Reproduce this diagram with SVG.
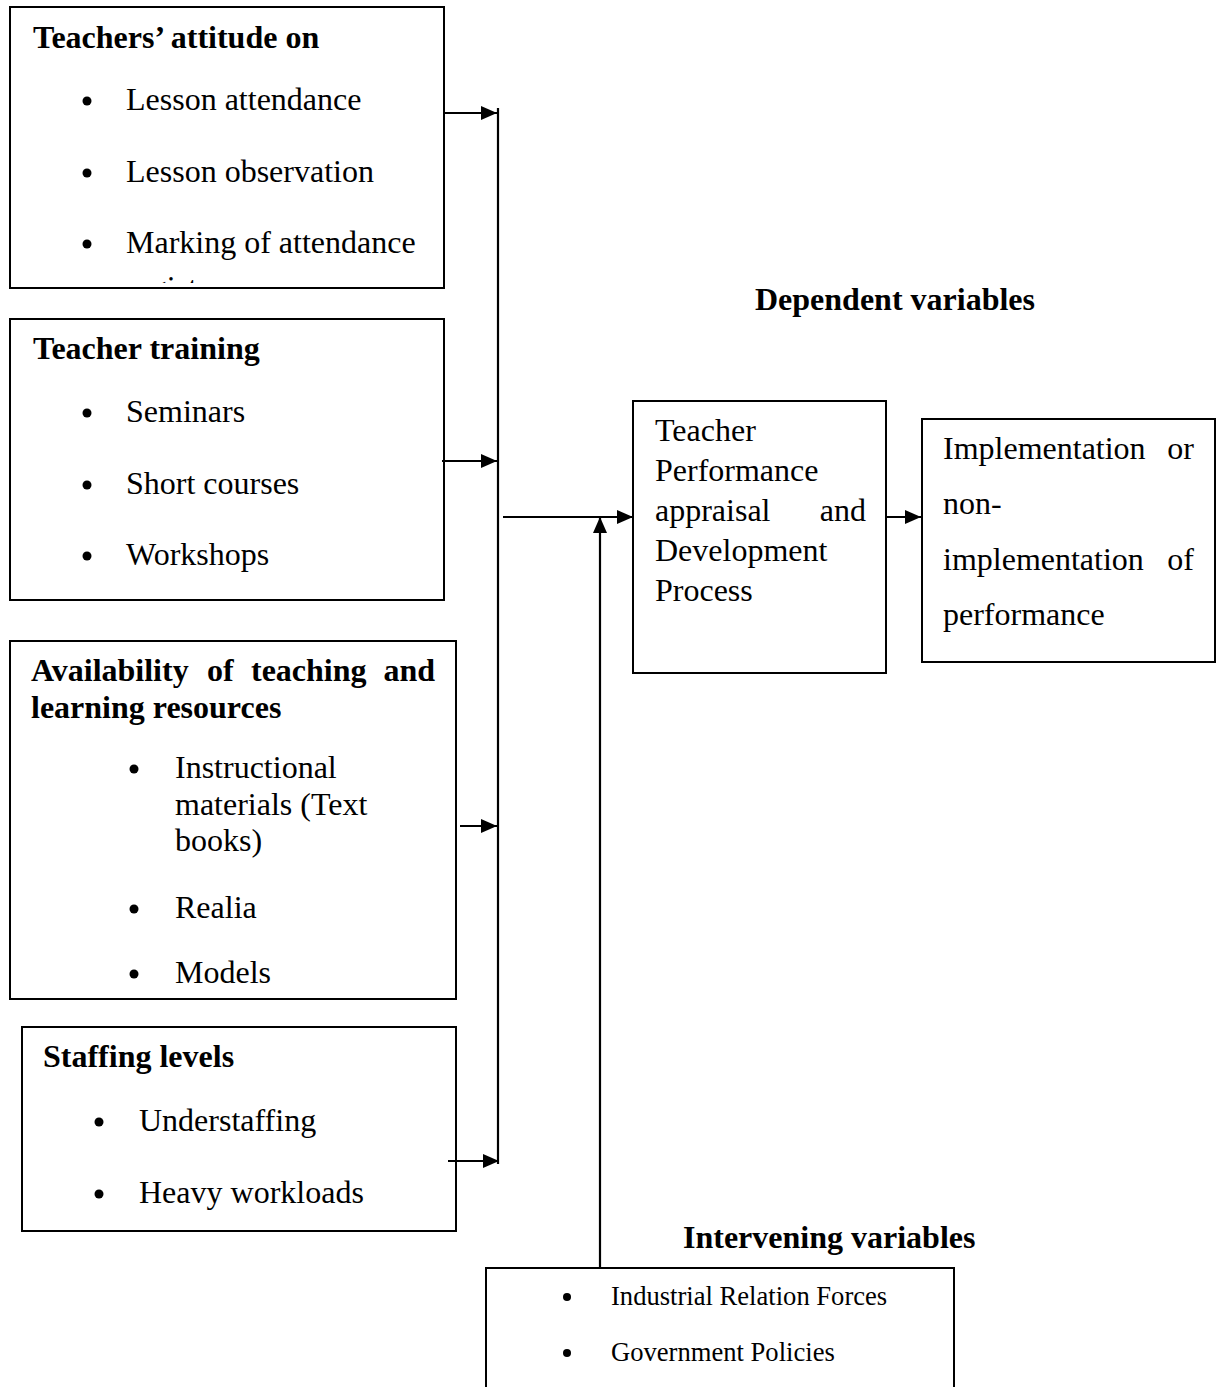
<svg xmlns="http://www.w3.org/2000/svg" width="1217" height="1387" viewBox="0 0 1217 1387">
<style>
.box{fill:#fff;stroke:#000;stroke-width:2}
.t{font-family:"Liberation Serif","Times New Roman",serif;font-size:32px;fill:#000}
.b{font-family:"Liberation Serif","Times New Roman",serif;font-size:32px;font-weight:bold;fill:#000}
.s{font-family:"Liberation Serif","Times New Roman",serif;font-size:26.6px;fill:#000}
.c{stroke:#000;stroke-width:2.2;fill:none}
</style>
<defs>
<marker id="ah" markerUnits="userSpaceOnUse" markerWidth="17" markerHeight="14" refX="16" refY="7" orient="auto">
<path d="M0,0 L16,7 L0,14 Z" fill="#000"/>
</marker>
<clipPath id="clip1"><rect x="11" y="8" width="432" height="275"/></clipPath>
</defs>
<rect width="1217" height="1387" fill="#fff"/>

<g id="attitude">
<rect class="box" x="10" y="7" width="434" height="281"/>
<text class="b" x="33" y="48">Teachers’ attitude on</text>
<circle cx="87" cy="101" r="4.5"/>
<text class="t" x="126" y="110">Lesson attendance</text>
<circle cx="87" cy="173" r="4.5"/>
<text class="t" x="126" y="182">Lesson observation</text>
<circle cx="87" cy="244" r="4.5"/>
<text class="t" x="126" y="253">Marking of attendance</text>
<text class="t" x="126" y="298" clip-path="url(#clip1)">register</text>
</g>

<g id="training">
<rect class="box" x="10" y="319" width="434" height="281"/>
<text class="b" x="33" y="359">Teacher training</text>
<circle cx="87" cy="413" r="4.5"/>
<text class="t" x="126" y="422">Seminars</text>
<circle cx="87" cy="485" r="4.5"/>
<text class="t" x="126" y="494">Short courses</text>
<circle cx="87" cy="556" r="4.5"/>
<text class="t" x="126" y="565">Workshops</text>
</g>

<g id="resources">
<rect class="box" x="10" y="641" width="446" height="358"/>
<text class="b" x="31" y="681">Availability</text>
<text class="b" x="207" y="681">of</text>
<text class="b" x="251" y="681">teaching</text>
<text class="b" x="435" y="681" text-anchor="end">and</text>
<text class="b" x="31" y="718">learning resources</text>
<circle cx="134" cy="769" r="4.5"/>
<text class="t" x="175" y="778">Instructional</text>
<text class="t" x="175" y="815">materials (Text</text>
<text class="t" x="175" y="851">books)</text>
<circle cx="134" cy="909" r="4.5"/>
<text class="t" x="175" y="918">Realia</text>
<circle cx="134" cy="974" r="4.5"/>
<text class="t" x="175" y="983">Models</text>
</g>

<g id="staffing">
<rect class="box" x="22" y="1027" width="434" height="204"/>
<text class="b" x="43" y="1067">Staffing levels</text>
<circle cx="99" cy="1122" r="4.5"/>
<text class="t" x="139" y="1131">Understaffing</text>
<circle cx="99" cy="1194" r="4.5"/>
<text class="t" x="139" y="1203">Heavy workloads</text>
</g>

<g id="dependent-label">
<text class="b" x="755" y="310">Dependent variables</text>
</g>

<g id="process">
<rect class="box" x="633" y="401" width="253" height="272"/>
<text class="t" x="655" y="441">Teacher</text>
<text class="t" x="655" y="481">Performance</text>
<text class="t" x="655" y="521">appraisal</text>
<text class="t" x="866" y="521" text-anchor="end">and</text>
<text class="t" x="655" y="561">Development</text>
<text class="t" x="655" y="601">Process</text>
</g>

<g id="implementation">
<rect class="box" x="922" y="419" width="293" height="243"/>
<text class="t" x="943" y="459">Implementation</text>
<text class="t" x="1194" y="459" text-anchor="end">or</text>
<text class="t" x="943" y="514">non-</text>
<text class="t" x="943" y="570">implementation</text>
<text class="t" x="1194" y="570" text-anchor="end">of</text>
<text class="t" x="943" y="625">performance</text>
</g>

<g id="intervening">
<text class="b" x="683" y="1248">Intervening variables</text>
<path class="box" d="M486,1387 V1268 H954 V1387"/>
<circle cx="567" cy="1297" r="4"/>
<text class="s" x="611" y="1305">Industrial Relation Forces</text>
<circle cx="567" cy="1353" r="4"/>
<text class="s" x="611" y="1361">Government Policies</text>
</g>

<g id="connectors">
<line class="c" x1="444" y1="113" x2="497" y2="113" marker-end="url(#ah)"/>
<line class="c" x1="442" y1="461" x2="497" y2="461" marker-end="url(#ah)"/>
<line class="c" x1="460" y1="826" x2="497" y2="826" marker-end="url(#ah)"/>
<line class="c" x1="448" y1="1161" x2="499" y2="1161" marker-end="url(#ah)"/>
<line class="c" x1="498" y1="108" x2="498" y2="1164"/>
<line class="c" x1="503" y1="517" x2="633" y2="517" marker-end="url(#ah)"/>
<line class="c" x1="600" y1="1268" x2="600" y2="517" marker-end="url(#ah)"/>
<line class="c" x1="886" y1="517" x2="921" y2="517" marker-end="url(#ah)"/>
</g>
</svg>
